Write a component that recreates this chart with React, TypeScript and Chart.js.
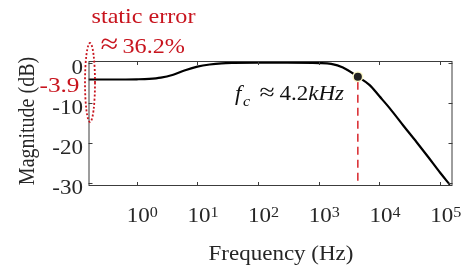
import React, { useEffect, useRef } from "react";
import { Chart, registerables } from "chart.js";

Chart.register(...registerables);

// ---- data ----
const frequencies: number[] = [
  0.16, 0.4, 1, 1.6, 2.5, 4, 6.3, 10, 16, 25, 40, 100, 300, 1000, 1600, 2500,
  4400, 6900, 10000, 14800, 25000, 40700, 63000, 100000, 145000,
];
const magnitudes: number[] = [
  -4.2, -4.2, -4.15, -4.05, -3.75, -3.0, -1.9, -1.0, -0.45, -0.15, -0.05, 0, 0,
  -0.1, -0.3, -1.2, -3.5, -5.6, -8.4, -11.4, -15.8, -19.8, -23.5, -27.5, -30.5,
];
const yTickValues: number[] = [0, -10, -20, -30];
const xTickExponents: number[] = [0, 1, 2, 3, 4, 5];
const cornerFrequency = 4400; // Hz, marked point
const cornerMagnitude = -3.5; // dB
const staticErrorDb = "-3.9";
const staticErrorTitle = "static error";
const approxSign = "\u2248";
const staticErrorValue = "36.2%";
const cornerLabelValue = "4.2";
const cornerLabelUnit = "kHz";
const xAxisTitle = "Frequency (Hz)";
const yAxisTitle = "Magnitude (dB)";

const X_MIN = 0.1607;
const X_MAX = 159600;
const Y_MIN = -30.8;
const Y_MAX = 0.42;

const SERIF = '"Liberation Serif", "Times New Roman", serif';
const S = 1.15; // horizontal text stretch
const INK = "#262626";
const RED = "#c8141e";

function txt(
  ctx: CanvasRenderingContext2D,
  s: string,
  x: number,
  y: number,
  font: string,
  color: string,
  align: CanvasTextAlign = "left"
) {
  ctx.save();
  ctx.font = font;
  ctx.fillStyle = color;
  ctx.textAlign = align;
  ctx.textBaseline = "alphabetic";
  ctx.translate(x, y);
  ctx.scale(S, 1);
  ctx.fillText(s, 0, 0);
  ctx.restore();
}
function w(ctx: CanvasRenderingContext2D, s: string, font: string) {
  ctx.save();
  ctx.font = font;
  const m = ctx.measureText(s).width * S;
  ctx.restore();
  return m;
}

const decorations = {
  id: "decorations",
  afterDatasetsDraw(chart: any) {
    const { ctx, chartArea, scales } = chart;
    const { bottom } = chartArea;
    const xs = scales.x;
    const ys = scales.y;
    const px = xs.getPixelForValue(cornerFrequency);
    const py = ys.getPixelForValue(cornerMagnitude);
    ctx.save();
    ctx.strokeStyle = "#d8262c";
    ctx.lineWidth = 1.5;
    ctx.setLineDash([8, 5]);
    ctx.beginPath();
    ctx.moveTo(px, py + 5);
    ctx.lineTo(px, bottom);
    ctx.stroke();
    ctx.restore();
    ctx.save();
    ctx.beginPath();
    ctx.arc(px, py, 5.5, 0, Math.PI * 2);
    ctx.fillStyle = "#fbf6c8";
    ctx.fill();
    ctx.beginPath();
    ctx.arc(px, py, 4, 0, Math.PI * 2);
    ctx.fillStyle = "#222222";
    ctx.fill();
    ctx.restore();
  },
  afterDraw(chart: any) {
    const { ctx, chartArea, scales } = chart;
    const { left, right, top, bottom } = chartArea;
    const xs = scales.x;
    const ys = scales.y;
    ctx.save();
    ctx.strokeStyle = "#3c3c3c";
    ctx.lineWidth = 1;
    ctx.strokeRect(left + 0.5, top + 0.5, right - left - 1, bottom - top - 1);
    ctx.beginPath();
    for (const e of xTickExponents) {
      const p = Math.round(xs.getPixelForValue(Math.pow(10, e))) + 0.5;
      ctx.moveTo(p, bottom);
      ctx.lineTo(p, bottom - 4);
      ctx.moveTo(p, top);
      ctx.lineTo(p, top + 4);
    }
    for (const v of yTickValues) {
      const p = Math.round(ys.getPixelForValue(v)) + 0.5;
      ctx.moveTo(left, p);
      ctx.lineTo(left + 4, p);
      ctx.moveTo(right, p);
      ctx.lineTo(right - 4, p);
    }
    ctx.stroke();
    ctx.restore();

    const F20 = `20px ${SERIF}`;
    const F14 = `14px ${SERIF}`;
    for (const v of yTickValues) {
      txt(ctx, String(v), left - 5.5, ys.getPixelForValue(v) + 11.5, F20, INK, "right");
    }
    for (const e of xTickExponents) {
      const p = xs.getPixelForValue(Math.pow(10, e));
      const x0 = p - 10;
      txt(ctx, "10", x0, 221.5, F20, INK);
      txt(ctx, String(e), x0 + w(ctx, "10", F20), 216.5, F14, INK);
    }
    txt(ctx, xAxisTitle, 281, 259.5, F20, INK, "center");
    ctx.save();
    ctx.font = F20;
    ctx.fillStyle = INK;
    ctx.textAlign = "center";
    ctx.translate(33.5, 121);
    ctx.scale(S, 1);
    ctx.rotate(-Math.PI / 2);
    ctx.fillText(yAxisTitle, 0, 0);
    ctx.restore();

    // static error annotation
    const F21 = `21px ${SERIF}`;
    txt(ctx, staticErrorTitle, 143.5, 23, F21, RED, "center");
    txt(ctx, approxSign, 100.5, 53, `28px ${SERIF}`, RED);
    txt(ctx, staticErrorValue, 122.5, 52.5, F21, RED);
    txt(ctx, staticErrorDb, 79.5, 92, `22px ${SERIF}`, RED, "right");
    ctx.save();
    ctx.strokeStyle = RED;
    ctx.lineWidth = 1.8;
    ctx.setLineDash([2, 2]);
    ctx.beginPath();
    ctx.ellipse(left + 1.5, 82.5, 5, 39.5, 0, 0, Math.PI * 2);
    ctx.stroke();
    ctx.restore();

    // f_c annotation
    const FI20 = `italic 20px ${SERIF}`;
    const FI14 = `italic 14px ${SERIF}`;
    const dark = "#111111";
    txt(ctx, "f", 235, 100, FI20, dark);
    txt(ctx, "c", 243, 106, FI14, dark);
    txt(ctx, approxSign, 259.5, 100, `24px ${SERIF}`, dark);
    let cx = 279.5;
    txt(ctx, cornerLabelValue, cx, 100, F20, dark);
    cx += w(ctx, cornerLabelValue, F20);
    txt(ctx, cornerLabelUnit, cx, 100, FI20, dark);
  },
};

export default function App() {
  const ref = useRef<HTMLCanvasElement | null>(null);
  useEffect(() => {
    if (!ref.current) return;
    const data = frequencies.map((f, i) => ({ x: f, y: magnitudes[i] }));
    const chart = new Chart(ref.current, {
      type: "line",
      data: {
        datasets: [
          {
            data,
            borderColor: "#000000",
            borderWidth: 2.2,
            pointRadius: 0,
            cubicInterpolationMode: "monotone",
            fill: false,
          },
        ],
      },
      options: {
        animation: false,
        responsive: false,
        events: [],
        layout: { padding: { left: 88.5, top: 61, right: 15.5, bottom: 82 } },
        plugins: { legend: { display: false }, tooltip: { enabled: false } },
        scales: {
          x: { type: "logarithmic", min: X_MIN, max: X_MAX, display: false },
          y: { type: "linear", min: Y_MIN, max: Y_MAX, display: false },
        },
      },
      plugins: [decorations],
    });
    return () => chart.destroy();
  }, []);
  return (
    <canvas
      ref={ref}
      width={468}
      height={268}
      style={{ position: "fixed", left: 0, top: 0, display: "block", background: "#ffffff" }}
    />
  );
}
